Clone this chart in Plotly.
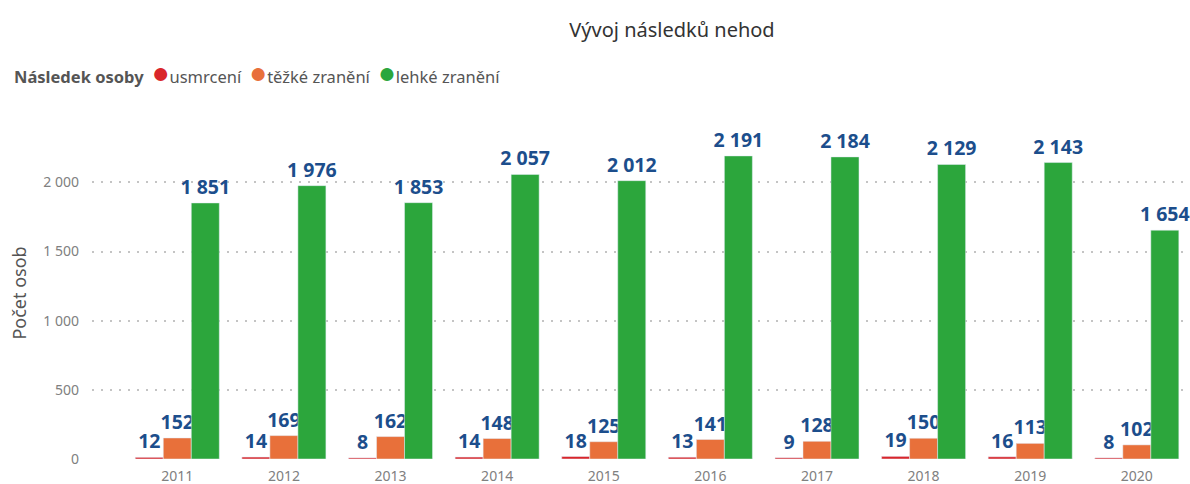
import plotly.graph_objects as go

years = ["2011", "2012", "2013", "2014", "2015", "2016", "2017", "2018", "2019", "2020"]
usmrceni = [12, 14, 8, 14, 18, 13, 9, 19, 16, 8]
tezke = [152, 169, 162, 148, 125, 141, 128, 150, 113, 102]
lehke = [1851, 1976, 1853, 2057, 2012, 2191, 2184, 2129, 2143, 1654]

series = [
    ("usmrcení", usmrceni, "#D9262B"),
    ("těžké zranění", tezke, "#E8703A"),
    ("lehké zranění", lehke, "#2CA63C"),
]
legend_title = "Následek osoby"

FONT = "Noto Sans"
fig = go.Figure()
for name, vals, col in series:
    fig.add_trace(go.Bar(
        x=years, y=vals, name=name, marker_color=col, showlegend=False,
        texttemplate="%{y:,d}", textposition="outside", cliponaxis=False,
        constraintext="none",
        textfont=dict(family=FONT, size=19.5, color="#1C4E8C", weight="bold"),
    ))

# legend drawn as a single text line (title + coloured dots + names)
parts = [f"<b>{legend_title}</b>"]
for name, vals, col in series:
    parts.append(f"<span style='color:{col};font-size:30px'> ●</span>{name}")
fig.add_annotation(
    text="".join(parts), xref="paper", yref="paper",
    x=-80 / 1096, xanchor="left", y=1 + (127 - 72) / 332, yanchor="middle",
    showarrow=False, font=dict(family=FONT, size=16.5, color="#555555"),
)

fig.update_layout(
    width=1190, height=484,
    separators=", ",
    paper_bgcolor="white", plot_bgcolor="white",
    margin=dict(l=92, r=2, t=127, b=25),
    font=dict(family=FONT, color="#666666"),
    title=dict(text="Vývoj následků nehod", x=672 / 1190, xanchor="center",
               y=1 - 30 / 484, yanchor="middle",
               font=dict(family=FONT, size=20, color="#333333")),
    barmode="group", bargap=0.212, bargroupgap=0,
    showlegend=False,
    xaxis=dict(range=[-0.8, 9.48], showgrid=False, showline=False, ticks="",
               automargin=False, ticklabelstandoff=7,
               tickfont=dict(size=14, color="#808080")),
    yaxis=dict(range=[0, 2400], tickvals=[0, 500, 1000, 1500, 2000], tickformat=",d",
               showgrid=True, gridcolor="#C4C4C4", griddash="2px,7px", gridwidth=1.5,
               zeroline=False, showline=False, ticks="", ticklabelstandoff=12,
               automargin=False,
               tickfont=dict(size=14, color="#808080"),
               title=dict(text="Počet osob", font=dict(size=18, color="#555555"), standoff=12)),
)
fig.write_html("out.html", config={"displayModeBar": False},
               post_script="document.body.style.margin='0';document.body.style.overflow='hidden';")
